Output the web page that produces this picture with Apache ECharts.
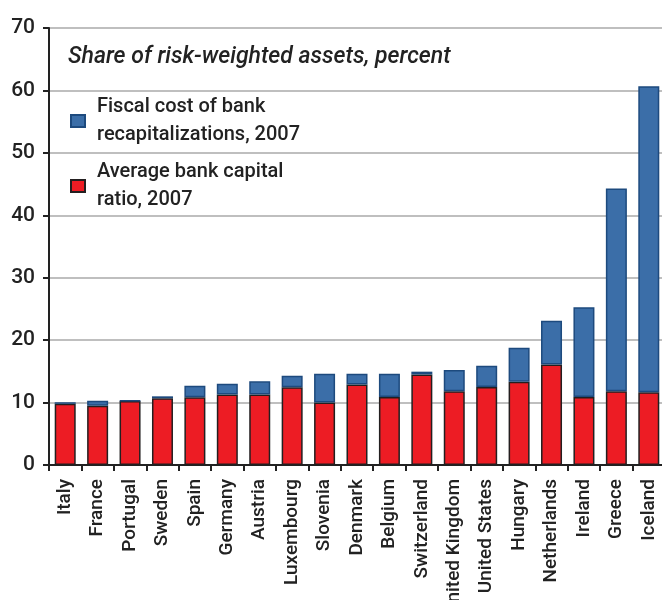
<!DOCTYPE html>
<html><head><meta charset="utf-8">
<script src="https://cdn.jsdelivr.net/npm/echarts@6/dist/echarts.min.js"></script>
<style>html,body{margin:0;padding:0;background:#fff}#c{width:662px;height:600px}</style>
</head><body><div id="c"></div>
<script>
const categories = ["Italy","France","Portugal","Sweden","Spain","Germany","Austria","Luxembourg","Slovenia","Denmark","Belgium","Switzerland","United Kingdom","United States","Hungary","Netherlands","Ireland","Greece","Iceland"];
const capitalRatio = [9.8,9.5,10.25,10.7,10.85,11.3,11.3,12.45,10.0,12.9,10.9,14.5,11.8,12.5,13.35,16.1,10.9,11.8,11.65];
const fiscalCost = [0.25,0.8,0.05,0.3,1.85,1.7,2.1,1.85,4.6,1.7,3.7,0.45,3.4,3.4,5.45,7.0,14.35,32.5,49.0];
const yTicks = [0,10,20,30,40,50,60,70];
const titleText = "Share of risk-weighted assets, percent";
const fiscalName = "Fiscal cost of bank\nrecapitalizations, 2007";
const ratioName = "Average bank capital\nratio, 2007";

const FONT = "Roboto, Liberation Sans, Arial, sans-serif";
const chart = echarts.init(document.getElementById('c'), null, {renderer:'canvas'});
chart.setOption({
  animation:false,
  backgroundColor:'#fff',
  title:{text:titleText,left:68,top:46,padding:0,textStyle:{fontFamily:FONT,fontStyle:'italic',fontWeight:500,fontSize:23,color:'#222'}},
  legend:{
    orient:'vertical',left:70,top:93,padding:0,itemWidth:14,itemHeight:12,itemGap:9,
    data:[fiscalName,ratioName],
    textStyle:{fontFamily:FONT,fontWeight:500,fontSize:20,color:'#222',lineHeight:28,padding:[0,0,0,7]},
    icon:'rect'
  },
  grid:{left:49,right:-3,top:28,bottom:135,containLabel:false,outerBoundsMode:'none'},
  xAxis:{
    type:'category',data:categories,
    axisLine:{lineStyle:{color:'#222',width:2}},
    axisTick:{show:true,length:6,lineStyle:{color:'#222',width:2}},
    axisLabel:{rotate:90,interval:0,margin:14,fontFamily:FONT,fontWeight:500,fontSize:19,color:'#222'}
  },
  yAxis:{
    type:'value',min:0,max:70,interval:10,
    axisLine:{show:true,lineStyle:{color:'#222',width:2}},
    axisTick:{show:true,length:6,lineStyle:{color:'#222',width:2}},
    axisLabel:{fontFamily:FONT,fontWeight:500,fontSize:21,color:'#222',margin:14,
      formatter:v=>yTicks.includes(v)?String(v):''},
    splitLine:{lineStyle:{color:'#aaa',width:1.5}}
  },
  series:[
    {name:ratioName,type:'bar',stack:'a',data:capitalRatio,barWidth:21,
     itemStyle:{color:'#ed1c24',borderColor:'#231f20',borderWidth:1.5}},
    {name:fiscalName,type:'bar',stack:'a',data:fiscalCost,barWidth:21,
     itemStyle:{color:'#3b6ea8',borderColor:'#1d4a7e',borderWidth:1.5}}
  ]
});
</script></body></html>
